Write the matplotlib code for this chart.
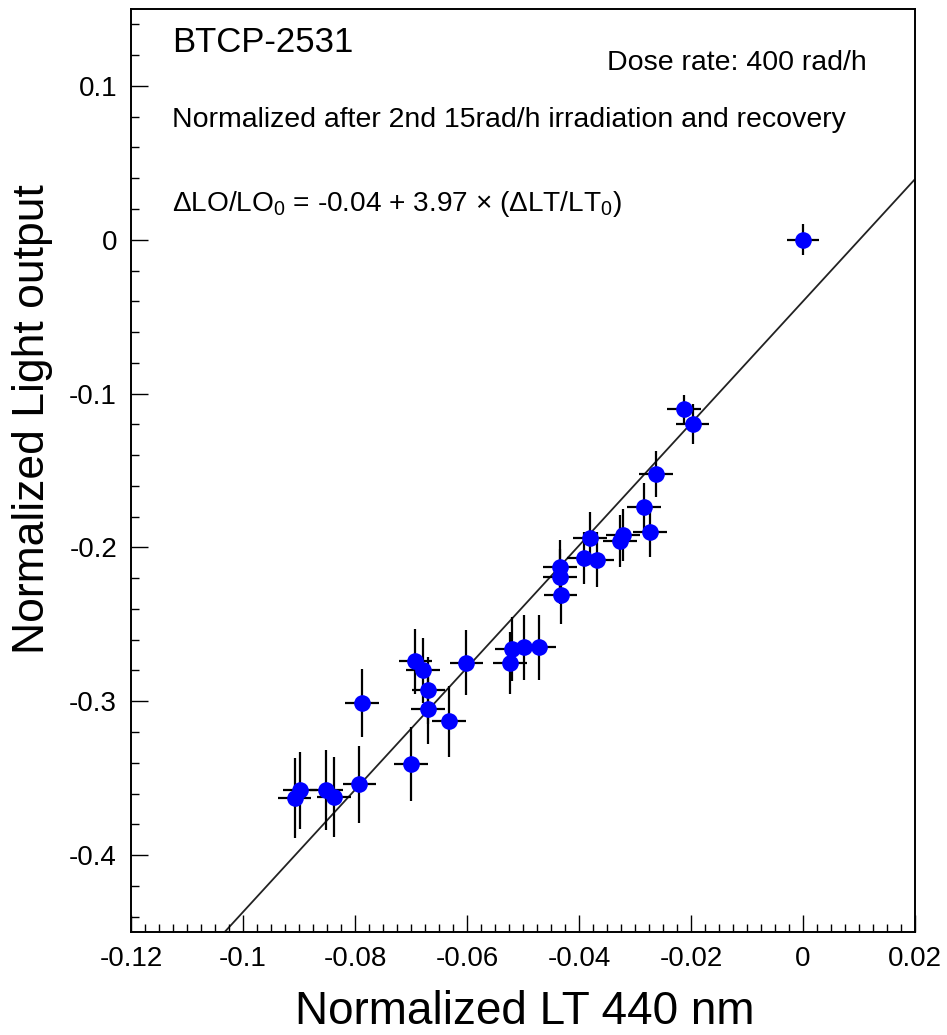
import numpy as np
import matplotlib
matplotlib.use("Agg")
import matplotlib.pyplot as plt
from matplotlib.ticker import MultipleLocator

plt.rcParams["font.family"] = ["Liberation Sans", "DejaVu Sans"]
plt.rcParams["mathtext.fontset"] = "custom"
plt.rcParams["mathtext.rm"] = "Liberation Sans"
plt.rcParams["mathtext.it"] = "Liberation Sans:italic"

# data: normalized LT 440 nm vs normalized light output
lt = [0.0, -0.0212, -0.0197, -0.0263, -0.0284, -0.0273, -0.0321, -0.0327,
      -0.0380, -0.0391, -0.0368, -0.0434, -0.0434, -0.0433, -0.0520, -0.0523,
      -0.0498, -0.0471, -0.0692, -0.0679, -0.0669, -0.0670, -0.0601, -0.0632,
      -0.0787, -0.0700, -0.0792, -0.0898, -0.0908, -0.0851, -0.0837]
lo = [0.0, -0.110, -0.120, -0.152, -0.174, -0.190, -0.192, -0.196,
      -0.194, -0.207, -0.208, -0.213, -0.219, -0.231, -0.266, -0.275,
      -0.265, -0.265, -0.274, -0.280, -0.293, -0.305, -0.275, -0.313,
      -0.301, -0.341, -0.354, -0.358, -0.363, -0.358, -0.362]
lt_err = [0.0028] + [0.003] * 30
lo_err = [0.010, 0.009, 0.013, 0.015, 0.016, 0.016, 0.017, 0.017,
          0.017, 0.017, 0.018, 0.018, 0.018, 0.019, 0.021, 0.020,
          0.021, 0.021, 0.021, 0.021, 0.022, 0.023, 0.021, 0.023,
          0.022, 0.024, 0.025, 0.025, 0.026, 0.026, 0.026]

# linear fit quoted on the plot
fit_a, fit_b = -0.04, 3.97
x_range = (-0.12, 0.02)
y_range = (-0.45, 0.15)

fig = plt.figure(figsize=(9.47, 10.35), dpi=100)
ax = fig.add_axes([131 / 947, 1 - 932 / 1035, 784 / 947, 923 / 1035])

xf = np.linspace(*x_range, 50)
ax.plot(xf, fit_a + fit_b * xf, color="#222222", lw=1.3, zorder=1)

ax.errorbar(lt, lo, xerr=lt_err, yerr=lo_err, fmt="none",
            ecolor="black", elinewidth=1.6, capsize=0, zorder=2)
ax.plot(lt, lo, "o", color="#0000ff", ms=12, mec="none", zorder=3)

ax.set_xlim(x_range); ax.set_ylim(y_range)
ax.xaxis.set_major_locator(MultipleLocator(0.02))
ax.xaxis.set_minor_locator(MultipleLocator(0.0025))
ax.yaxis.set_major_locator(MultipleLocator(0.1))
ax.yaxis.set_minor_locator(MultipleLocator(0.02))
ax.xaxis.set_major_formatter(lambda v, p: f"{v:g}" if abs(v) > 1e-9 else "0")
ax.yaxis.set_major_formatter(lambda v, p: f"{v:g}" if abs(v) > 1e-9 else "0")
ax.tick_params(which="both", direction="in", top=False, right=False,
               width=1.0, labelsize=20, pad=10)
ax.tick_params(which="major", length=12)
ax.tick_params(which="minor", length=5.5)
for s in ax.spines.values():
    s.set_linewidth(1.4)

fig.text(0.5 * (290 + 760) / 947, 1 - 1012 / 1035, "Normalized LT 440 nm",
         fontsize=33, ha="center", va="center")
fig.text(33 / 947, 1 - 419 / 1035, "Normalized Light output",
         fontsize=32, ha="center", va="center", rotation=90)

ax.text(-0.1127, 0.128, "BTCP-2531", fontsize=25, va="center", ha="left")
ax.text(0.0114, 0.115, "Dose rate: 400 rad/h", fontsize=20.5,
        va="center", ha="right")
ax.text(-0.1127, 0.078, "Normalized after 2nd 15rad/h irradiation and recovery",
        fontsize=20.5, va="center", ha="left")
ax.text(-0.1127, 0.023,
        "\u0394LO/LO$_0$ = -0.04 + 3.97 \u00d7 (\u0394LT/LT$_0$)",
        fontsize=20.2, va="center", ha="left")

fig.savefig("out.png", dpi=100)
